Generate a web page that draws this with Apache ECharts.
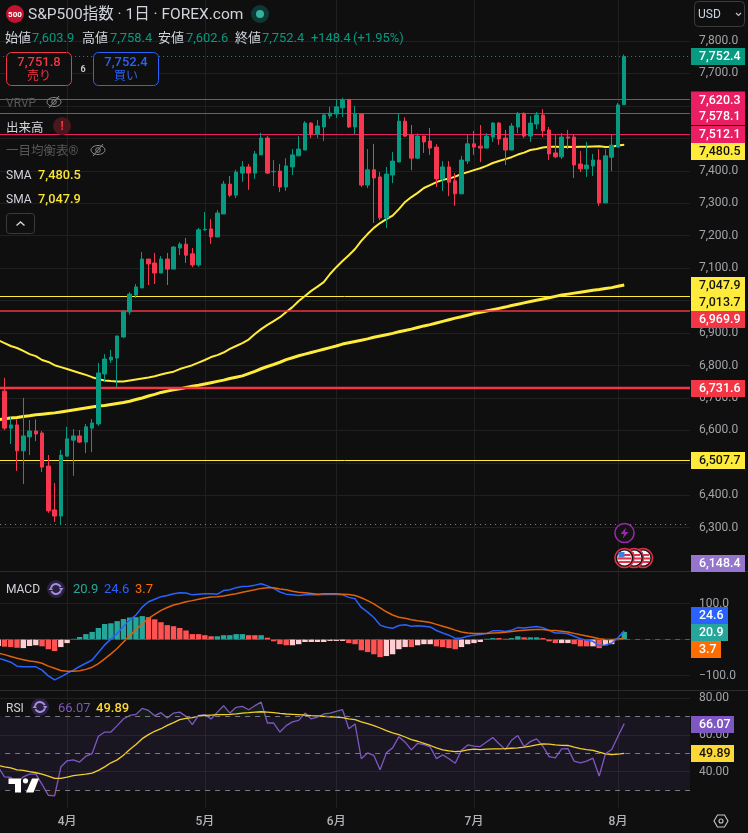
<!DOCTYPE html>
<html><head><meta charset="utf-8">
<style>html,body{margin:0;padding:0;background:#0f0f0f}#c{width:748px;height:833px}</style>
<script src="https://cdn.jsdelivr.net/npm/echarts@6/dist/echarts.min.js"></script>
</head><body><div id="c"></div>
<script>
const opens=[6694,6721,6607,6617,6537,6580,6598,6592,6490,6355,6336,6521,6570,6583,6564,6607,6620,6774,6817,6823,6888,6965,7017,7039,7128,7116,7085,7128,7097,7162,7174,7144,7110,7218,7221,7196,7267,7359,7325,7393,7412,7393,7449,7501,7397,7399,7350,7412,7446,7464,7547,7513,7535,7569,7575,7594,7620,7535,7575,7356,7403,7381,7255,7387,7427,7553,7510,7439,7507,7492,7473,7375,7412,7369,7329,7430,7483,7476,7470,7504,7547,7501,7464,7535,7577,7507,7544,7572,7526,7455,7443,7504,7504,7421,7406,7415,7433,7301,7442,7473,7603.9];
const closes=[6721,6607,6617,6537,6583,6598,6589,6487,6352,6336,6524,6574,6583,6564,6611,6623,6777,6820,6826,6891,6968,7020,7042,7128,7113,7085,7128,7097,7165,7174,7140,7110,7218,7220,7196,7270,7359,7325,7396,7412,7393,7452,7501,7393,7398,7350,7415,7449,7467,7547,7513,7538,7572,7578,7597,7618,7535,7575,7356,7403,7378,7255,7390,7430,7553,7507,7439,7507,7489,7470,7375,7412,7365,7329,7433,7483,7473,7470,7507,7547,7498,7464,7538,7577,7507,7547,7572,7523,7452,7443,7504,7501,7418,7406,7418,7433,7301,7446,7479,7603,7752.4];
const lows=[6690,6601,6558,6475,6435,6524,6567,6472,6346,6318,6309,6518,6460,6561,6530,6533,6614,6749,6808,6733,6885,6956,7008,7039,7048,7051,7085,7048,7097,7140,7116,7103,7104,7215,7175,7196,7267,7319,7316,7366,7341,7375,7449,7390,7353,7335,7338,7387,7446,7464,7501,7501,7492,7560,7563,7566,7532,7513,7350,7347,7239,7248,7224,7362,7427,7504,7402,7436,7455,7449,7350,7338,7322,7292,7329,7421,7449,7427,7470,7489,7480,7418,7464,7516,7501,7489,7529,7504,7433,7439,7436,7467,7378,7396,7381,7384,7292,7301,7399,7473,7602.6];
const highs=[6730,6762,6642,6634,6700,6632,6634,6598,6524,6438,6540,6611,6604,6601,6620,6635,6808,6835,6848,6891,6971,7026,7051,7150,7128,7147,7137,7147,7168,7180,7193,7162,7224,7273,7251,7279,7369,7384,7403,7430,7421,7461,7517,7507,7433,7421,7439,7467,7507,7553,7550,7557,7575,7597,7621,7625,7621,7600,7578,7467,7483,7396,7412,7458,7575,7565,7541,7515,7507,7532,7482,7430,7430,7393,7446,7510,7523,7541,7516,7550,7550,7526,7547,7581,7580,7569,7581,7590,7535,7510,7516,7526,7513,7461,7489,7452,7467,7467,7513,7609,7758.4];
const sma50=[6878,6869,6860,6854,6845,6835,6829,6817,6811,6801,6795,6789,6783,6777,6771,6764,6758,6754,6752,6751,6751,6754,6757,6760,6763,6767,6772,6777,6781,6789,6795,6801,6809,6817,6826,6832,6840,6851,6860,6869,6880,6897,6912,6925,6937,6949,6965,6980,6999,7014,7030,7043,7057,7082,7103,7122,7140,7159,7184,7205,7224,7239,7251,7262,7282,7304,7319,7332,7347,7356,7365,7372,7376,7382,7390,7396,7402,7408,7415,7424,7430,7436,7442,7450,7456,7464,7467,7472,7474,7474,7473,7474,7473,7474,7474,7475,7476,7473,7474,7478,7480.5];
const sma200=[6633,6636,6638,6640,6643,6645,6648,6650,6652,6654,6657,6660,6663,6666,6669,6672,6675,6677,6680,6683,6686,6690,6695,6700,6706,6711,6717,6721,6725,6728,6732,6736,6739,6743,6747,6751,6755,6760,6764,6768,6775,6782,6790,6797,6803,6810,6818,6824,6830,6835,6840,6845,6850,6855,6860,6866,6870,6874,6878,6882,6887,6891,6895,6899,6904,6908,6912,6917,6922,6926,6931,6936,6941,6946,6950,6955,6960,6964,6968,6972,6976,6980,6985,6989,6993,6997,7001,7005,7009,7013,7017,7020,7023,7026,7029,7032,7034,7037,7040,7044,7047.9];
const macdHist=[-18,-20,-21,-23,-24,-18,-16,-19,-27,-32,-21,-10,2,7,15,21,32,43,45,51,57,61,62,65,62,56,48,40,37,32,25,15,15,12,9,9,12,12,15,15,12,12,12,5,-5,-13,-16,-16,-13,-7,-7,-7,-7,-4,-4,-4,-10,-13,-30,-35,-41,-49,-46,-41,-27,-21,-21,-16,-13,-13,-19,-21,-24,-27,-21,-13,-10,-7,2,4,4,2,4,9,6,6,6,4,-5,-10,-10,-10,-13,-19,-19,-19,-24,-16,-13,4,20.9];
const macdTone="PRRRPPPRRRPPTTTTTTTTTTTTRRRRRRRRRRRTTTTTRRTRRRRPPPPPPPPPRRRRRRPPPPRPPPRRRRPPPPTTRRTTRTTRRRPPRRRPRPPTT";
const macdLine=[-52,-57,-63,-74,-75.5,-75.5,-76,-85,-101,-112,-104,-94,-85,-75,-66,-57,-36,-15,1,17,36,54,68,90,105,112,119,122,127,130,129,124,126,127,127,126,136,138,144,147,148,151,155,149,142,132,126,124,122,124,125,124,125,125,125,124,117,113,89,76,61,40,34,31,39,41,37,38,37,35,25,18,12,3,4,9,12,14,17,24,24,22,26,33,32,34,36,33,25,18,18,16,9,2,-2,-5,-17,-15,-10,5,24.6];
const macdSignal=[-38,-42,-47,-52,-56,-60,-62,-66,-74,-80,-86,-88,-88,-87,-83,-77,-67,-54,-40,-25,-7,10,27,43,59,70,81,89,96,100,105,108,112,115,118,119,121,124,127,131,135,138,142,144,144,140,138,134,131,130,128,126,127,127,127,126,125,122,116,108,99,88,77,68,62,59,55,52,50,47,42,37,32,26,21,18,17,17,17,18,19,20,22,24,26,27,28,28,26,25,23,21,17,13,10,6,2,0,0,0,3.7];
const rsi=[42.6,37.2,36.9,33.6,37.2,38.7,38.7,33.1,27.2,26.8,42.5,45.9,46.4,45.2,48.4,49.8,59.2,61.5,61.5,65,68.6,70.5,71.1,74.3,73.2,70.4,72,69.1,71.8,72.3,70,65.5,70.5,70.9,68.6,72.3,75.8,71.8,74.9,75.4,73.6,75.8,77.7,66.4,66.4,61.5,65,67,67.8,71.8,68.6,69.6,71.3,71.8,72.7,73.6,63.3,65.9,47,50.2,48.8,41,50.2,52.9,59,56,51.8,55.4,54.7,53.4,47.1,49.1,47,44.6,51.6,54.5,53.8,53.6,56.1,58.5,55.1,52,57,59.6,53.6,56.3,57.8,53.8,48.2,47.5,52.4,52.5,45.7,44.8,45.7,47.3,37.6,49.7,52,59.2,66.07];
const rsiMa=[43.4,42.6,42.1,41,40.7,40,39.4,38.7,37.6,36.3,36.3,37,37.8,38.3,38.7,39.2,40.7,42.6,44.8,46.4,48.9,52,54.7,57.9,60.1,61.9,63.3,65.1,66.6,68.2,68.9,69.3,70.2,70.5,70.7,70.9,70.9,71.1,71.4,71.8,72,72.3,72.5,72.3,72,71.6,71.3,71.1,70.9,70.7,70.4,70.2,70,69.8,69.6,69.3,68.6,68.2,67,66,65,63.7,62.3,61,60.1,58.8,57.4,56.5,55.4,54.2,52.9,51.8,51.3,50.9,51.1,51.8,52.2,52,52.2,52.4,52.4,52.5,52.7,52.9,53.3,53.8,54.5,55.1,54.9,54.5,54.3,54.2,53.3,52.5,52,51.6,50.6,49.7,49.3,49.5,49.89];
const monthIndex=[11,33,54,76,99];
const monthNames=['4月','5月','6月','7月','8月'];
const priceLines=[7620.3,7578.1,7512.1,7013.7,6969.9,6731.6,6507.7];
const priceLineColors=['#e91e63','#e91e63','#e91e63','#ffeb3b','#f23645','#f23645','#ffeb3b'];
const lastClose=7752.4, visibleLow=6311;
const tagTexts=['7,752.4','7,620.3','7,578.1','7,512.1','7,480.5','7,047.9','7,013.7','6,969.9','6,731.6','6,507.7','6,148.4','24.6','20.9','3.7','66.07','49.89'];
const tagColors=['#089981','#e91e63','#e91e63','#e91e63','#ffeb3b','#ffeb3b','#ffeb3b','#f23645','#f23645','#ffeb3b','#9575cd','#2962ff','#26a69a','#ff6d00','#7e57c2','#fdd835'];
const tagInk=['#fff','#fff','#fff','#fff','#131313','#131313','#131313','#fff','#fff','#131313','#fff','#fff','#fff','#fff','#fff','#131313'];
const tagTop=[48,91.5,108,126,143,277,294,311,380,452,555,607,624,641,716,745];
const tagWidth=[54,54,54,54,54,54,54,54,54,54,54,37,37,30,43,43];

const F="Roboto,'Noto Sans CJK JP',sans-serif";
const bands=111, barStep=6.26, left=-4.89, plotW=bands*barStep;
const cats=Array.from({length:bands},(_,i)=>String(i));
const isMonth=i=>monthIndex.indexOf(i)>=0;
const toneColor={T:'#26a69a',R:'#ff5252',P:'#ffcdd2'};
const labelColor='#a0a3a8', gridColor='#202020', bright='#d1d4dc', dim='#575757';

function T(x,y,text,fill,size,weight,align){
  return {type:'text',z:50,silent:true,style:{x,y,text,fill,font:(weight||'400')+' '+(size||12)+'px '+F,textAlign:align||'left',textVerticalAlign:'middle'}};
}
function eye(x,y,c){return [
  {type:'ellipse',z:50,silent:true,shape:{cx:x,cy:y,rx:7,ry:4.5},style:{fill:'none',stroke:c,lineWidth:1}},
  {type:'circle',z:50,silent:true,shape:{cx:x,cy:y,r:2.3},style:{fill:'none',stroke:c,lineWidth:1}},
  {type:'line',z:50,silent:true,shape:{x1:x-5,y1:y+6,x2:x+5,y2:y-6},style:{stroke:c,lineWidth:1}}];}
function refresh(x,y){return [
  {type:'circle',z:50,silent:true,shape:{cx:x,cy:y,r:9},style:{fill:'#2a2140'}},
  {type:'arc',z:50,silent:true,shape:{cx:x,cy:y,r:5,startAngle:0.3,endAngle:2.7},style:{fill:'none',stroke:'#a88ce0',lineWidth:2}},
  {type:'arc',z:50,silent:true,shape:{cx:x,cy:y,r:5,startAngle:3.4,endAngle:5.9},style:{fill:'none',stroke:'#a88ce0',lineWidth:2}},
  {type:'polygon',z:50,silent:true,shape:{points:[[x+3,y-1],[x+7.5,y-1],[x+5.2,y+2]]},style:{fill:'#a88ce0'}},
  {type:'polygon',z:50,silent:true,shape:{points:[[x-3,y+1],[x-7.5,y+1],[x-5.2,y-2]]},style:{fill:'#a88ce0'}}];}
function flag(x,y,z){return [
  {type:'circle',z,silent:true,shape:{cx:x,cy:y,r:9.6},style:{fill:'#131313',stroke:'#e4304a',lineWidth:1.5}},
  {type:'circle',z,silent:true,shape:{cx:x,cy:y,r:7.4},style:{fill:'#f4f4f4'}},
  {type:'rect',z,silent:true,shape:{x:x-7,y:y-0.5,width:14,height:2},style:{fill:'#e4304a'}},
  {type:'rect',z,silent:true,shape:{x:x-6,y:y+3,width:12,height:2},style:{fill:'#e4304a'}},
  {type:'rect',z,silent:true,shape:{x:x-1,y:y-4,width:7,height:2},style:{fill:'#e4304a'}},
  {type:'rect',z,silent:true,shape:{x:x-6,y:y-6,width:6,height:5.5},style:{fill:'#3d7fd9'}}];}

const g=[];
// header
g.push({type:'circle',z:50,silent:true,shape:{cx:15,cy:14,r:9},style:{fill:'#c4122f'}});
g.push(T(15,14.5,'500','#fff',8,'700','center'));
g.push(T(28,15,'S&P500指数 · 1日 · FOREX.com',bright,15.5,'400'));
g.push({type:'circle',z:50,silent:true,shape:{cx:260,cy:14,r:9},style:{fill:'#0d3833'}});
g.push({type:'circle',z:50,silent:true,shape:{cx:260,cy:14,r:4},style:{fill:'#33b39c'}});
[[5,'始値'],[82,'高値'],[158,'安値'],[235,'終値']].forEach(a=>g.push(T(a[0],39,a[1],bright,13)));
[[32,'7,603.9'],[110,'7,758.4'],[186,'7,602.6'],[262,'7,752.4'],[311,'+148.4'],[353,'(+1.95%)']].forEach(a=>g.push(T(a[0],39,a[1],'#089981',12.9)));
g.push({type:'rect',z:49,silent:true,shape:{x:6.5,y:52.5,width:65,height:33,r:5},style:{fill:'#0f0f0f',stroke:'#f23645',lineWidth:1}});
g.push(T(39,62.5,'7,751.8','#f23645',13,'500','center'));
g.push(T(39,77,'売り','#f23645',12,'400','center'));
g.push(T(83,69.5,'6','#c8c8c8',9,'700','center'));
g.push({type:'rect',z:49,silent:true,shape:{x:93.5,y:52.5,width:65,height:33,r:5},style:{fill:'#0f0f0f',stroke:'#2962ff',lineWidth:1}});
g.push(T(126,62.5,'7,752.4','#2962ff',13,'500','center'));
g.push(T(126,77,'買い','#2962ff',12,'400','center'));
g.push(T(6,104,'VRVP',dim,12));
g.push(...eye(54,102,'#8a8a8a'));
g.push(T(6,128.5,'出来高',bright,12.5));
g.push({type:'circle',z:50,silent:true,shape:{cx:62,cy:126,r:9},style:{fill:'#4a171c'}});
g.push(T(62,127,'!','#f23645',12,'700','center'));
g.push(T(6,152,'一目均衡表®',dim,12.5));
g.push(...eye(98,150,'#8a8a8a'));
g.push(T(6,176,'SMA',bright,12));
g.push(T(38,176,'7,480.5','#f9e43a',12.8,'500'));
g.push(T(6,199.5,'SMA',bright,12));
g.push(T(38,199.5,'7,047.9','#f9e43a',12.8,'500'));
g.push({type:'rect',z:49,silent:true,shape:{x:6.5,y:213.5,width:28,height:20,r:3},style:{fill:'#0f0f0f',stroke:'#3a3a3a',lineWidth:1}});
g.push({type:'polyline',z:50,silent:true,shape:{points:[[16.5,225.5],[20.5,222],[24.5,225.5]]},style:{fill:'none',stroke:'#d1d4dc',lineWidth:1.4}});
// usd
g.push({type:'rect',z:49,silent:true,shape:{x:694.5,y:1.5,width:50,height:25,r:4},style:{fill:'#0f0f0f',stroke:'#3c3c3c',lineWidth:1}});
g.push(T(698,14.5,'USD','#c9d6e4',12));
g.push({type:'polyline',z:50,silent:true,shape:{points:[[736,13],[738.5,15.5],[741,13]]},style:{fill:'none',stroke:'#c0c0c0',lineWidth:1.2}});
// pane legends
g.push(T(6,590,'MACD',bright,12));
g.push(...refresh(56,589));
g.push(T(73,590,'20.9','#26a69a',13));
g.push(T(104,590,'24.6','#2962ff',13));
g.push(T(135,590,'3.7','#ff6d00',13));
g.push(T(6,709,'RSI',bright,12));
g.push(...refresh(40,707));
g.push(T(58,709,'66.07','#7e57c2',13));
g.push(T(96,709,'49.89','#fdd835',13,'500'));
// logo
g.push({type:'polygon',z:50,silent:true,shape:{points:[[8.5,778.5],[21,778.5],[21,792.5],[15,792.5],[15,784],[8.5,784]]},style:{fill:'#fff'}});
g.push({type:'circle',z:50,silent:true,shape:{cx:25.5,cy:780.8,r:2.6},style:{fill:'#fff'}});
g.push({type:'polygon',z:50,silent:true,shape:{points:[[32,778.5],[39,778.5],[33.5,792.5],[26,792.5]]},style:{fill:'#fff'}});
// dividers
[571,690].forEach(y=>g.push({type:'line',z:40,silent:true,shape:{x1:0,y1:y+.5,x2:748,y2:y+.5},style:{stroke:'#2c2c2c',lineWidth:1}}));
// right-hand tags
tagTexts.forEach((s,i)=>{
  g.push({type:'rect',z:45,silent:true,shape:{x:691,y:tagTop[i],width:tagWidth[i],height:17},style:{fill:tagColors[i]}});
  g.push(T(699,tagTop[i]+9.3,s,tagInk[i],12.4,'500'));
});
// events
g.push({type:'circle',z:46,silent:true,shape:{cx:624.5,cy:533,r:9.6},style:{fill:'#131313',stroke:'#9c27b0',lineWidth:1.5}});
g.push({type:'polygon',z:47,silent:true,shape:{points:[[626,527.5],[620.5,534],[624,534],[622.8,538.5],[628.5,532],[625,532]]},style:{fill:'#9c27b0'}});
g.push(...flag(643,558,46),...flag(634,558,47),...flag(624.5,558,48));
// settings
g.push({type:'polygon',z:50,silent:true,shape:{points:[[714,821],[717.5,815],[724.5,815],[728,821],[724.5,827],[717.5,827]]},style:{fill:'none',stroke:'#c8c8c8',lineWidth:1.1}});
g.push({type:'circle',z:50,silent:true,shape:{cx:721,cy:821,r:2},style:{fill:'none',stroke:'#c8c8c8',lineWidth:1.1}});

const lineOff={symbol:'none',silent:true};
const dashed=(v,c)=>({yAxis:v,lineStyle:{color:c||'#787b86',type:[5,5],width:1}});
const xBase=i=>({type:'category',gridIndex:i,data:cats,show:false,boundaryGap:true});
const ySplit={show:true,lineStyle:{color:gridColor,width:1},showMinLine:false,showMaxLine:false};
const yLab=f=>({color:labelColor,fontFamily:F,fontSize:12,align:'left',margin:9,padding:[2,0,0,0],showMinLabel:false,showMaxLabel:false,formatter:f});
const gridBase={left,width:plotW,outerBoundsMode:'none',containLabel:false};

const option={
  backgroundColor:'#0f0f0f',animation:false,tooltip:{show:false},
  grid:[
    {...gridBase,top:8.55,height:551.65},
    {...gridBase,top:567.5,height:144},
    {...gridBase,top:661.1,height:147.4},
    {...gridBase,top:0,height:808}
  ],
  xAxis:[xBase(0),xBase(1),xBase(2),{
    type:'category',gridIndex:3,data:cats,boundaryGap:true,position:'bottom',
    axisLine:{show:false},axisTick:{show:false},
    splitLine:{show:true,interval:isMonthFn,alignWithLabel:true,lineStyle:{color:gridColor,width:1}},
    axisLabel:{interval:isMonthFn,margin:8,color:'#b0b3b8',fontFamily:F,fontSize:12,fontWeight:500,
      formatter:(v,i)=>monthNames[monthIndex.indexOf(+v)]||''}
  }],
  yAxis:[
    {type:'value',gridIndex:0,position:'right',min:6200,max:7900,interval:100,axisLine:{show:false},axisTick:{show:false},splitLine:ySplit,
      axisLabel:yLab(v=>v.toLocaleString('en-US',{minimumFractionDigits:1,maximumFractionDigits:1}))},
    {type:'value',gridIndex:1,position:'right',min:-200,max:200,interval:100,axisLine:{show:false},axisTick:{show:false},splitLine:ySplit,
      axisLabel:yLab(v=>(v<0?'−':'')+Math.abs(v).toFixed(1))},
    {type:'value',gridIndex:2,position:'right',min:20,max:100,interval:20,axisLine:{show:false},axisTick:{show:false},splitLine:ySplit,
      axisLabel:yLab(v=>v.toFixed(2))},
    {type:'value',gridIndex:3,show:false,min:0,max:1,splitLine:{show:false}}
  ],
  series:[
    {type:'line',xAxisIndex:3,yAxisIndex:3,data:[],z:0},
    {type:'line',xAxisIndex:0,yAxisIndex:0,data:[],z:1,markLine:{...lineOff,animation:false,label:{show:false},
      data:priceLines.map((v,i)=>({yAxis:v,lineStyle:{color:priceLineColors[i],type:'solid',width:(i==4||i==5)?(i==5?2.4:1.6):1}}))
        .concat([{yAxis:lastClose,lineStyle:{color:'#089981',type:[1,3],width:1}},{yAxis:visibleLow,lineStyle:{color:'#8a8a8a',type:[1,4],width:1}}])}},
    {name:'SMA200',type:'line',xAxisIndex:0,yAxisIndex:0,data:sma200,showSymbol:false,z:2,lineStyle:{color:'#ffeb3b',width:3}},
    {name:'SMA50',type:'line',xAxisIndex:0,yAxisIndex:0,data:sma50,showSymbol:false,z:2,lineStyle:{color:'#ffeb3b',width:2}},
    {name:'S&P500',type:'candlestick',xAxisIndex:0,yAxisIndex:0,z:5,barWidth:4,
      data:opens.map((o,i)=>[o,closes[i],lows[i],highs[i]]),
      itemStyle:{color:'#089981',color0:'#f7374f',borderColor:'#089981',borderColor0:'#f7374f',borderWidth:1}},
    {name:'Hist',type:'bar',xAxisIndex:1,yAxisIndex:1,z:2,barWidth:5.4,
      data:macdHist.map((v,i)=>({value:v,itemStyle:{color:toneColor[macdTone[i]]}})),
      markLine:{...lineOff,animation:false,label:{show:false},data:[dashed(0,'#5a5a5a')]}},
    {name:'MACD',type:'line',xAxisIndex:1,yAxisIndex:1,z:3,data:macdLine,showSymbol:false,lineStyle:{color:'#2962ff',width:1.5}},
    {name:'Signal',type:'line',xAxisIndex:1,yAxisIndex:1,z:4,data:macdSignal,showSymbol:false,lineStyle:{color:'#e0620a',width:1.5}},
    {name:'Over',type:'line',xAxisIndex:2,yAxisIndex:2,z:1,data:rsi.map(v=>Math.max(v,70)),showSymbol:false,lineStyle:{width:0},areaStyle:{origin:70,color:'rgba(76,175,80,0.13)'}},
    {name:'Under',type:'line',xAxisIndex:2,yAxisIndex:2,z:1,data:rsi.map(v=>Math.min(v,30)),showSymbol:false,lineStyle:{width:0},areaStyle:{origin:30,color:'rgba(242,54,69,0.13)'}},
    {name:'RSI',type:'line',xAxisIndex:2,yAxisIndex:2,z:3,data:rsi,showSymbol:false,lineStyle:{color:'#7e57c2',width:1.3},
      markArea:{silent:true,animation:false,itemStyle:{color:'rgba(126,87,194,0.1)'},data:[[{yAxis:70},{yAxis:30}]]},
      markLine:{...lineOff,animation:false,label:{show:false},data:[dashed(70),dashed(50),dashed(30)]}},
    {name:'RSI MA',type:'line',xAxisIndex:2,yAxisIndex:2,z:4,data:rsiMa,showSymbol:false,lineStyle:{color:'#f2cf2e',width:1.3}}
  ],
  graphic:g
};
function isMonthFn(i){return isMonth(i);}
echarts.init(document.getElementById('c'),null,{renderer:'canvas'}).setOption(option);
</script></body></html>
